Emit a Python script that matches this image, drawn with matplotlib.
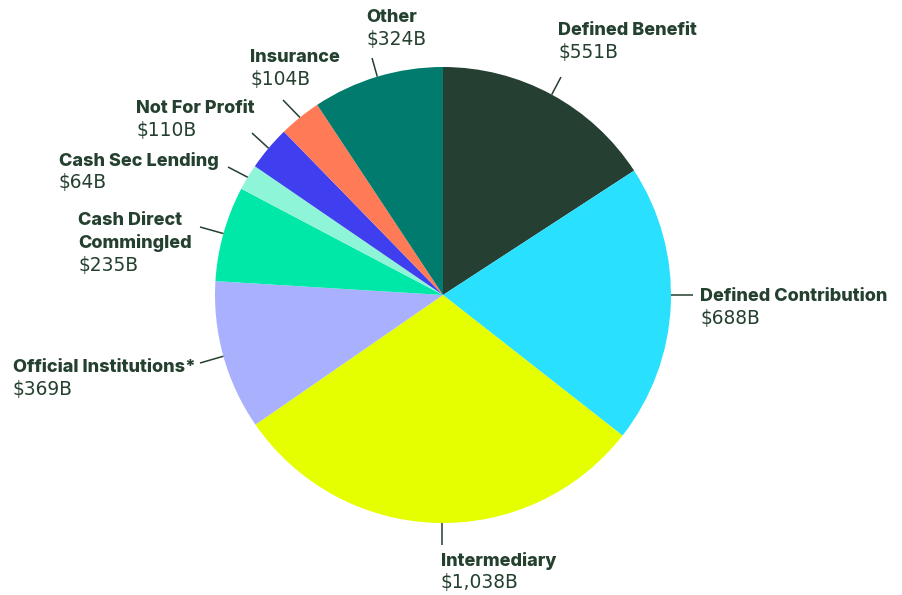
import matplotlib
matplotlib.use("Agg")
import matplotlib.pyplot as plt
import numpy as np

categories = ["Defined Benefit", "Defined Contribution", "Intermediary",
              "Official Institutions*", "Cash Direct\nCommingled", "Cash Sec Lending",
              "Not For Profit", "Insurance", "Other"]
values = [551, 688, 1038, 369, 235, 64, 110, 104, 324]
value_labels = ["$551B", "$688B", "$1,038B", "$369B", "$235B", "$64B", "$110B", "$104B", "$324B"]
colors = ["#263f33", "#29e0ff", "#e5ff00", "#a9b1ff", "#00e8a8", "#8ff5d9",
          "#3f3ff0", "#ff7a57", "#007b6d"]

W, H = 902, 595
fig = plt.figure(figsize=(W / 100, H / 100), dpi=100)
ax = fig.add_axes([0, 0, 1, 1])
cx, cy, R = 443, H - 295, 228
wedges, _ = ax.pie(values, colors=colors, startangle=90, counterclock=False,
                   center=(cx, cy), radius=R, wedgeprops=dict(linewidth=0))
ax.set_xlim(0, W)
ax.set_ylim(0, H)
ax.set_aspect("equal")
ax.axis("off")

txt = "#24402f"
line_ends = [(561, 77), (693, 295), (442, 545), (200, 363), (200, 227),
             (228, 167), (252, 133), (283, 100), (372, 58)]
label_pos = [(558, 22), (700, 288), (441, 552), (13, 359), (78, 212),
             (59, 152), (136, 100), (250, 49), (366, 9)]

for w, le, lp, name, val in zip(wedges, line_ends, label_pos, categories, value_labels):
    ang = np.deg2rad((w.theta1 + w.theta2) / 2)
    sx, sy = cx + R * np.cos(ang), cy + R * np.sin(ang)
    if name == "Defined Contribution":
        sy = H - le[1]
    if name == "Intermediary":
        sx = le[0]
    ax.plot([sx, le[0]], [sy, H - le[1]], color=txt, lw=1.1, solid_capstyle="butt")
    nlines = name.count("\n") + 1
    ax.text(lp[0], H - lp[1], name, ha="left", va="top", fontsize=13,
            fontweight="heavy", family="Inter", color=txt, linespacing=1.38)
    ax.text(lp[0], H - lp[1] - 23 * nlines + 2, val, ha="left", va="top", fontsize=13.4,
            family="DejaVu Sans", color=txt)

fig.savefig("out.png", dpi=100)
